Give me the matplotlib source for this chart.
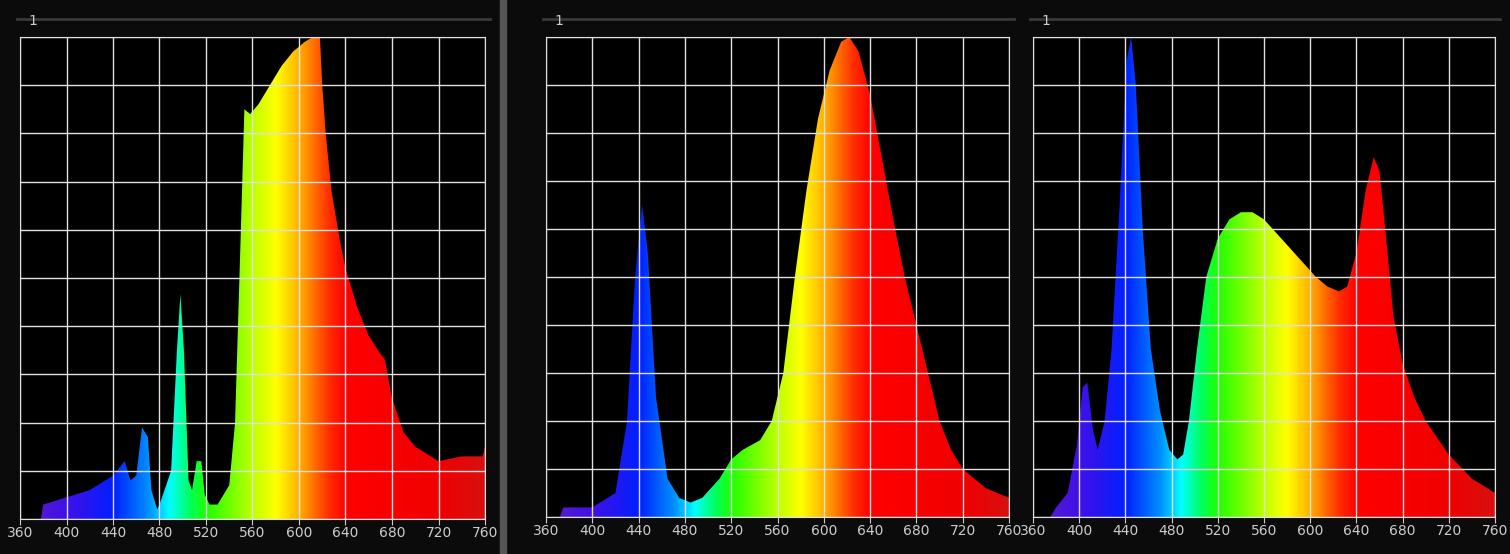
import numpy as np
import matplotlib
matplotlib.use("Agg")
import matplotlib.pyplot as plt
from matplotlib.colors import LinearSegmentedColormap

wl1 = [360,378,380,400,420,440,450,455,460,465,470,473,478,480,490,495,498,501,505,508,512,516,519,523,530,540,545,550,553,558,565,575,585,595,605,612,618,620,623,628,635,640,650,660,668,674,680,690,700,720,740,758,760]
sp1 = [0,0,0.03,0.045,0.06,0.09,0.12,0.08,0.09,0.19,0.17,0.06,0.02,0.03,0.10,0.35,0.467,0.35,0.08,0.06,0.12,0.12,0.05,0.03,0.03,0.07,0.2,0.6,0.85,0.84,0.86,0.9,0.94,0.97,0.99,1.0,1.0,0.9,0.8,0.68,0.58,0.52,0.44,0.38,0.35,0.33,0.25,0.18,0.15,0.12,0.13,0.13,0.15]
wl2 = [360,372,375,400,420,430,437,443,448,455,465,475,485,495,510,520,530,545,555,565,575,585,595,605,615,622,630,640,650,660,670,680,690,700,710,720,740,760]
sp2 = [0,0,0.02,0.02,0.05,0.2,0.5,0.65,0.55,0.25,0.08,0.04,0.03,0.04,0.08,0.12,0.14,0.16,0.2,0.3,0.5,0.68,0.83,0.93,0.99,1.0,0.97,0.88,0.75,0.62,0.5,0.4,0.3,0.2,0.14,0.1,0.06,0.04]
wl3 = [360,375,380,390,398,403,407,412,416,422,428,435,441,445,449,455,462,470,478,485,490,495,502,510,520,530,540,550,560,575,590,605,615,625,632,640,648,655,660,665,672,680,690,700,720,740,760]
sp3 = [0,0,0.02,0.05,0.15,0.27,0.28,0.18,0.14,0.2,0.35,0.65,0.95,1.0,0.9,0.6,0.35,0.22,0.14,0.12,0.13,0.2,0.35,0.5,0.58,0.62,0.635,0.635,0.62,0.58,0.54,0.5,0.48,0.47,0.48,0.55,0.68,0.75,0.72,0.6,0.42,0.32,0.25,0.2,0.13,0.08,0.05]
xticks = [360,400,440,480,520,560,600,640,680,720,760]

anchors = [(360,'#5a20c8'),(400,'#4010e8'),(440,'#0020ff'),(470,'#0090ff'),(488,'#00ffff'),(505,'#00ff60'),(520,'#20ff00'),(560,'#c0ff00'),(580,'#ffff00'),(600,'#ffb000'),(625,'#ff3000'),(640,'#ff0000'),(720,'#f00000'),(760,'#d81010')]
cmap = LinearSegmentedColormap.from_list('spec', [((w-360)/400, c) for w, c in anchors])

fig = plt.figure(figsize=(15.1,5.54), dpi=100, facecolor='#0b0b0b')
W, H = 1510, 554
fig.add_artist(plt.Rectangle((500/W,0),6/W,1,transform=fig.transFigure,color='#555555'))
panels = [(20,485,37,519,wl1,sp1),(546,1009,37,517,wl2,sp2),(1033,1495,37,517,wl3,sp3)]
grad = np.linspace(0,1,800)[None,:]
for (x0,x1,y0,y1,wl,sp) in panels:
    ax = fig.add_axes([x0/W,1-y1/H,(x1-x0)/W,(y1-y0)/H])
    ax.set_facecolor('#000000')
    ax.set_xlim(360,760); ax.set_ylim(0,1.0)
    poly = ax.fill_between(wl, sp, 0, color='none', lw=0)
    im = ax.imshow(grad, cmap=cmap, extent=[360,760,0,1], aspect='auto', zorder=1)
    im.set_clip_path(poly.get_paths()[0], transform=ax.transData)
    ax.set_xticks(xticks)
    ax.set_yticks(np.linspace(0,1,11))
    ax.set_yticklabels([])
    ax.grid(True, color='#e0e0e0', lw=1, zorder=3)
    ax.set_axisbelow(False)
    ax.tick_params(axis='x', colors='#cccccc', labelsize=10, length=4, pad=1)
    ax.tick_params(axis='y', length=0)
    for s in ax.spines.values():
        s.set_color('#e0e0e0')
    fig.add_artist(plt.Line2D([(x0-3)/W,(x1+5)/W],[1-19/H,1-19/H],transform=fig.transFigure,color='#3a3a3a',lw=2))
    fig.text((x0+8)/W, 1-25/H, '1', color='#cccccc', fontsize=10)
fig.savefig('out.png', dpi=100, facecolor=fig.get_facecolor())
